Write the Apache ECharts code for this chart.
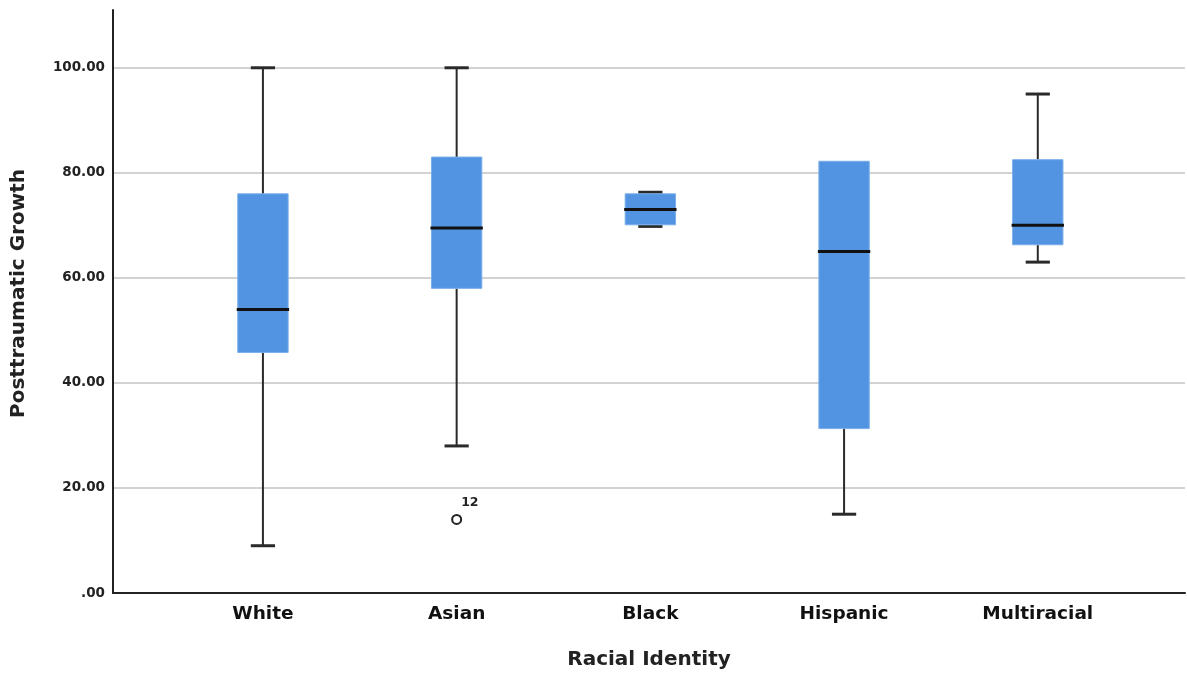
<!DOCTYPE html>
<html>
<head>
<meta charset="utf-8">
<script src="https://cdn.jsdelivr.net/npm/echarts@6/dist/echarts.min.js"></script>
<style>
html,body{margin:0;padding:0;background:#fff;}
#chart{width:1187px;height:677px;}
</style>
</head>
<body>
<div id="chart"></div>
<script>
const categories = ['White', 'Asian', 'Black', 'Hispanic', 'Multiracial'];
const mins    = [9.0, 28.0, 69.8, 15.0, 63.0];
const q1s     = [45.8, 58.0, 70.1, 31.3, 66.3];
const medians = [54.0, 69.5, 73.0, 65.0, 70.0];
const q3s     = [76.0, 83.0, 76.0, 82.2, 82.5];
const maxs    = [100.0, 100.0, 76.3, 82.2, 95.0];
const outlierCategories = ['Asian'];
const outlierValues = [14.0];
const outlierLabels = ['12'];
const yTicks = [0, 20, 40, 60, 80, 100];

const boxData = categories.map((c, i) => [i + 1, mins[i], q1s[i], medians[i], q3s[i], maxs[i]]);
const outlierData = outlierCategories.map((c, i) => ({
  value: [categories.indexOf(c) + 1, outlierValues[i]],
  label: { formatter: outlierLabels[i] }
}));

const FONT = 'DejaVu Sans';
const chart = echarts.init(document.getElementById('chart'));
chart.setOption({
  animation: false,
  backgroundColor: '#ffffff',
  grid: { left: 113, right: 2, top: 10, bottom: 84, containLabel: false },
  xAxis: {
    type: 'value',
    min: 0.226,
    max: 5.76,
    name: 'Racial Identity',
    nameLocation: 'middle',
    nameGap: 57,
    nameTextStyle: { fontFamily: FONT, fontWeight: 'bold', fontSize: 20, color: '#222' },
    axisLine: { show: true, onZero: false, lineStyle: { color: '#222', width: 2 } },
    axisTick: { show: false },
    splitLine: { show: false },
    axisLabel: {
      margin: 12,
      fontFamily: FONT, fontWeight: 'bold', fontSize: 18.5, color: '#111',
      showMinLabel: false, showMaxLabel: false,
      formatter: v => (Math.abs(v - Math.round(v)) < 1e-6 && categories[Math.round(v) - 1]) ? categories[Math.round(v) - 1] : ''
    }
  },
  yAxis: {
    type: 'value',
    min: 0,
    max: 111,
    interval: 20,
    name: 'Posttraumatic Growth',
    nameLocation: 'middle',
    nameGap: 84,
    nameTextStyle: { fontFamily: FONT, fontWeight: 'bold', fontSize: 20, color: '#222', padding: [0, 0, 0, 16] },
    axisLine: { show: true, lineStyle: { color: '#222', width: 2 } },
    axisTick: { show: false },
    splitLine: { show: true, showMaxLine: false, showMinLine: false, lineStyle: { color: '#d2d2d2', width: 2 } },
    axisLabel: {
      margin: 8,
      fontFamily: FONT, fontWeight: 'bold', fontSize: 13.5, color: '#222',
      showMaxLabel: false,
      formatter: v => yTicks.indexOf(v) >= 0 ? (v === 0 ? '.00' : v.toFixed(2)) : ''
    }
  },
  series: [
    {
      type: 'custom',
      data: boxData,
      encode: { x: 0, y: [1, 2, 3, 4, 5] },
      z: 3,
      renderItem: function (params, api) {
        const x = api.value(0);
        const band = api.size([1, 0])[0];
        const boxW = band * 0.26;
        const capW = band * 0.125;
        const vMin = api.value(1), vQ1 = api.value(2), vQ3 = api.value(4), vMax = api.value(5);
        const pMin = api.coord([x, vMin]);
        const pQ1 = api.coord([x, vQ1]);
        const pMed = api.coord([x, api.value(3)]);
        const pQ3 = api.coord([x, vQ3]);
        const pMax = api.coord([x, vMax]);
        const cx = pMed[0];
        const wStyle = { stroke: '#2a2a2a', lineWidth: 2 };
        const cStyle = { stroke: '#2a2a2a', lineWidth: 3 };
        const children = [];
        if (vMin < vQ1) {
          children.push({ type: 'line', shape: { x1: cx, y1: pMin[1], x2: cx, y2: pQ1[1] }, style: wStyle });
          children.push({ type: 'line', shape: { x1: cx - capW / 2, y1: pMin[1], x2: cx + capW / 2, y2: pMin[1] }, style: cStyle });
        }
        if (vMax > vQ3) {
          children.push({ type: 'line', shape: { x1: cx, y1: pQ3[1], x2: cx, y2: pMax[1] }, style: wStyle });
          children.push({ type: 'line', shape: { x1: cx - capW / 2, y1: pMax[1], x2: cx + capW / 2, y2: pMax[1] }, style: cStyle });
        }
        children.push({ type: 'rect', shape: { x: cx - boxW / 2, y: pQ3[1], width: boxW, height: pQ1[1] - pQ3[1] },
          style: { fill: '#5294e2', stroke: '#7aaeea', lineWidth: 1 } });
        children.push({ type: 'line', shape: { x1: cx - boxW / 2 - 1, y1: pMed[1], x2: cx + boxW / 2 + 1, y2: pMed[1] },
          style: { stroke: '#111', lineWidth: 3 } });
        return { type: 'group', children: children };
      }
    },
    {
      type: 'scatter',
      data: outlierData,
      z: 4,
      symbol: 'circle',
      symbolSize: 9,
      itemStyle: { color: '#ffffff', borderColor: '#222', borderWidth: 2, opacity: 1 },
      label: {
        show: true,
        position: [10, -18],
        fontFamily: FONT, fontWeight: 'bold', fontSize: 12.5, color: '#222'
      }
    }
  ]
});
</script>
</body>
</html>
